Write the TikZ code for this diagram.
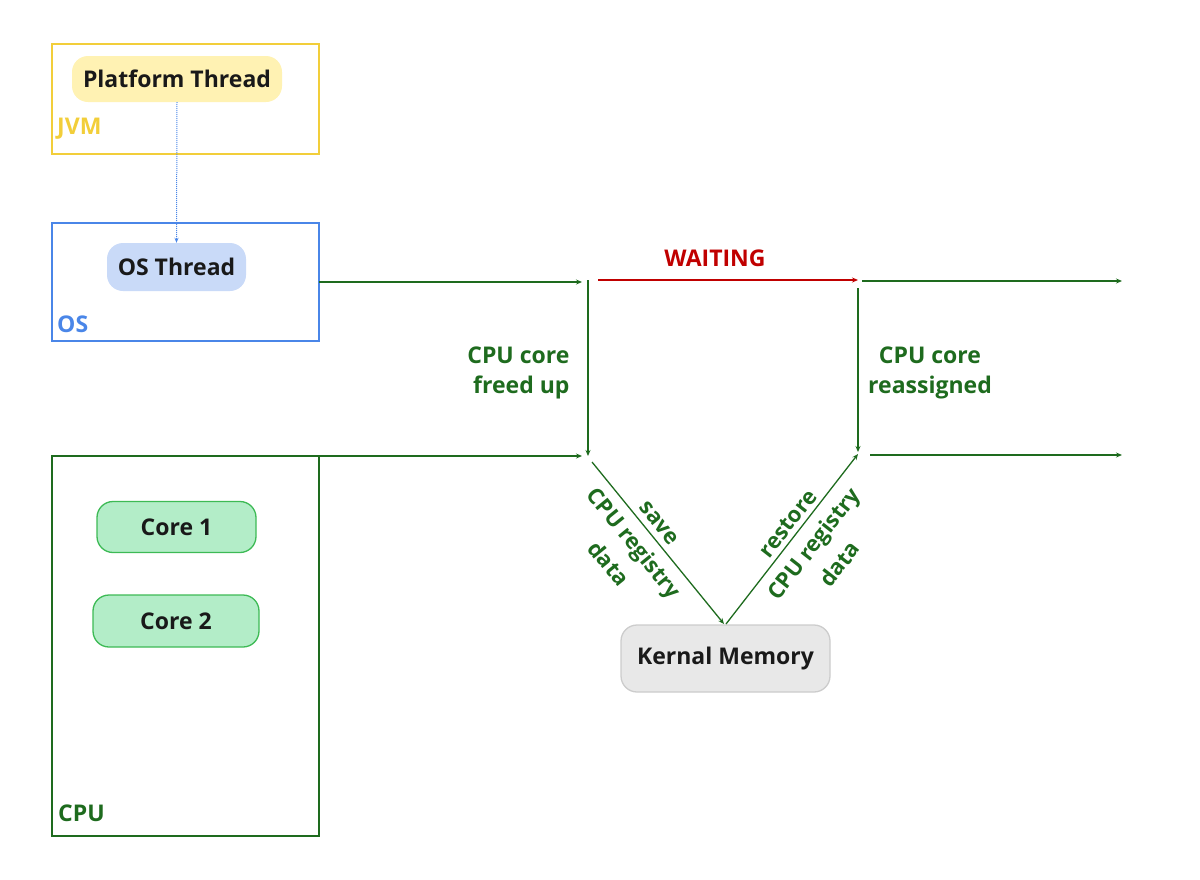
\documentclass[tikz,border=0pt]{standalone}
\usepackage{fontspec}
\setmainfont{Open Sans}
\usetikzlibrary{arrows.meta}
\definecolor{jvmc}{HTML}{F2CE3A}
\definecolor{ptf}{HTML}{FFF2B3}
\definecolor{osc}{HTML}{4A86E8}
\definecolor{osf}{HTML}{C9DAF8}
\definecolor{gr}{HTML}{1E6B1E}
\definecolor{coref}{HTML}{B3EDC8}
\definecolor{corec}{HTML}{3DBA55}
\definecolor{wait}{HTML}{C00000}
\begin{document}
\begin{tikzpicture}[x=1pt,y=-1pt,
  txt/.style={font=\fontsize{23}{30}\selectfont\bfseries},
  pill/.style={txt,rounded corners=16pt,inner sep=0pt,text=black!90},
  box/.style={line width=1.3pt},
  arr/.style={draw=gr,line width=1.3pt,-{Stealth[length=6pt,width=5pt]}},
  glab/.style={txt,text=gr,align=center},
  rlab/.style={glab,font=\fontsize{22}{33}\selectfont\bfseries}]
\useasboundingbox (0,0) rectangle (1200,879);
\draw[box,jvmc] (52,44) rectangle (319,154);
\node[txt,text=jvmc,anchor=south west,inner sep=0pt] (jvm) at (57,140) {JVM};
\node[pill,fill=ptf,minimum width=210pt,minimum height=46pt] (pt) at (177,79) {Platform Thread};
\draw[box,osc] (52,223) rectangle (319,341);
\node[txt,text=osc,anchor=south west,inner sep=0pt] (os) at (57,333) {OS};
\node[pill,fill=osf,minimum width=139pt,minimum height=48pt] (ost) at (176.5,267) {OS Thread};
\draw[osc,line width=1pt,densely dotted,-{Stealth[length=5pt,width=4pt]}] (pt.south) -- (ost.north);
\draw[box,gr] (52,456) rectangle (319,836);
\node[txt,text=gr,anchor=south west,inner sep=0pt] (cpu) at (58,822) {CPU};
\node[pill,draw=corec,line width=1.3pt,fill=coref,minimum width=159pt,minimum height=51pt] (c1) at (176.5,527) {Core 1};
\node[pill,draw=corec,line width=1.3pt,fill=coref,minimum width=166pt,minimum height=52pt] (c2) at (176,621) {Core 2};
\node[pill,draw=black!20,line width=1.3pt,fill=black!9,minimum width=209pt,minimum height=67pt] (km) at (725.5,658.5) {Kernal Memory};
\coordinate (a1) at (319,282); \coordinate (a2) at (582,282);
\coordinate (w1) at (598,280); \coordinate (w2) at (858,280);
\coordinate (b1) at (862,281); \coordinate (b2) at (1122,281);
\coordinate (c1a) at (319,456); \coordinate (c1b) at (582,456);
\coordinate (d1) at (870,455); \coordinate (d2) at (1122,455);
\coordinate (v1) at (588,280); \coordinate (v2) at (588,456);
\coordinate (u1) at (858,288); \coordinate (u2) at (858,452);
\coordinate (s1) at (592,462); \coordinate (s2) at (724,624);
\coordinate (r1) at (726,624); \coordinate (r2) at (858,454);
\draw[arr] (a1) -- (a2);
\draw[arr,draw=wait] (w1) -- (w2);
\draw[arr] (b1) -- (b2);
\draw[arr] (c1a) -- (c1b);
\draw[arr] (d1) -- (d2);
\draw[arr] (v1) -- (v2);
\draw[arr] (u1) -- (u2);
\draw[arr] (s1) -- (s2);
\draw[arr] (r1) -- (r2);
\node[txt,text=wait] (wl) at (715,258) {WAITING};
\node[glab,align=right,anchor=east] (fu) at (573,373) {CPU core\\freed up};
\node[glab] (ra) at (930,373) {CPU core\\reassigned};
\node[rlab,rotate=-51] (sv) at (633,544) {save\\CPU registry\\data};
\node[rlab,rotate=52] (rs) at (814,544) {restore\\CPU registry\\data};
\end{tikzpicture}
\end{document}
